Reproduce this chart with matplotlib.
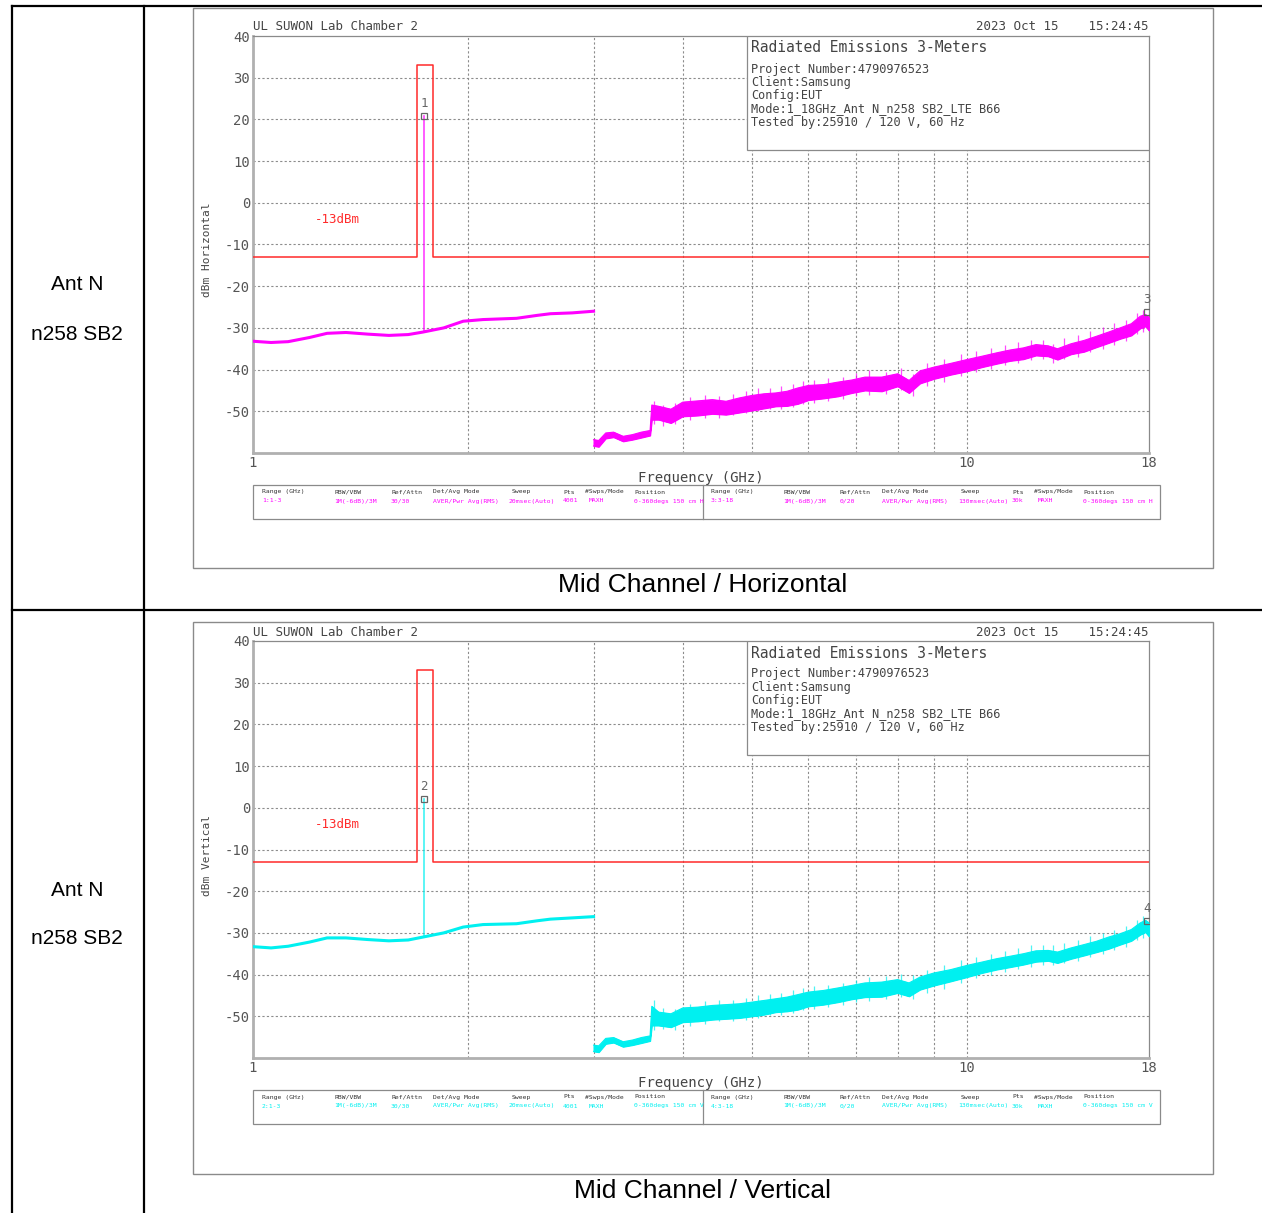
import matplotlib
matplotlib.use("Agg")
import matplotlib.pyplot as plt
from matplotlib.patches import Rectangle
from matplotlib.lines import Line2D

W, H = 1262, 1213
MONO = "DejaVu Sans Mono"
SANS = "Liberation Sans"
GREY = "#555555"

# ---- data ----
row_labels = ["Ant N", "n258 SB2"]
captions = ["Mid Channel / Horizontal", "Mid Channel / Vertical"]
pol_labels = ["dBm Horizontal", "dBm Vertical"]
trace_colors = ["#ff00ff", "#00f0f0"]

# limit mask (-13 dBm with in-band notch)
mask_freq = [1.0, 1.70, 1.70, 1.79, 1.79, 18.0]
mask_level = [-13, -13, 33, 33, -13, -13]

# 1-3 GHz sweep
seg1_freq = [1.0, 1.06, 1.12, 1.2, 1.27, 1.35, 1.45, 1.55, 1.65, 1.73,
             1.85, 1.97, 2.1, 2.34, 2.5, 2.61, 2.8, 3.0]
seg1_h = [-33.2, -33.5, -33.3, -32.3, -31.3, -31.1, -31.5, -31.8, -31.6, -31.0,
          -30.0, -28.4, -28.0, -27.7, -27.0, -26.6, -26.4, -26.0]
seg1_v = [-33.3, -33.6, -33.2, -32.2, -31.2, -31.2, -31.6, -31.9, -31.7, -31.0,
          -30.0, -28.6, -28.0, -27.8, -27.1, -26.7, -26.4, -26.1]

# 3-18 GHz sweep (noise band: lower / upper edge)
seg2_freq = [3.0, 3.05, 3.12, 3.2, 3.3, 3.4, 3.5, 3.6, 3.62, 3.7, 3.85, 4.0,
             4.2, 4.4, 4.6, 4.8, 5.0, 5.2, 5.4, 5.6, 5.8, 6.0, 6.3, 6.6,
             6.9, 7.2, 7.6, 8.0, 8.3, 8.6, 9.0, 9.5, 10.0, 10.5, 11.0, 11.5,
             12.0, 12.5, 13.0, 13.4, 14.0, 14.6, 15.2, 15.8, 16.4, 17.0, 17.5,
             17.8, 18.0]
seg2_h_lo = [-58.3, -58.5, -56.5, -56.2, -57.2, -56.8, -56.3, -55.8, -52.0, -52.0,
             -52.8, -51.2, -51.0, -50.6, -50.8, -50.3, -49.8, -49.3, -48.8, -48.7,
             -48.2, -47.3, -46.9, -46.4, -45.6, -45.0, -45.2, -44.0, -45.6, -43.3,
             -42.2, -41.2, -40.4, -39.4, -38.6, -37.9, -37.5, -36.6, -36.8, -37.6,
             -36.3, -35.7, -34.6, -33.6, -32.6, -31.8, -30.1, -29.6, -30.6]
seg2_h_hi = [-56.8, -57.0, -55.2, -55.0, -56.0, -55.6, -55.0, -54.6, -48.5, -48.8,
             -49.5, -47.8, -47.5, -47.2, -47.6, -46.8, -46.2, -45.8, -45.6, -45.2,
             -44.4, -43.8, -43.6, -43.0, -42.5, -41.8, -41.8, -41.0, -42.6, -40.3,
             -39.4, -38.5, -37.6, -36.8, -36.0, -35.3, -34.8, -34.0, -34.3, -35.0,
             -33.8, -33.0, -32.0, -31.0, -30.0, -29.0, -27.2, -26.8, -27.5]
seg2_v_lo = [-58.4, -58.6, -56.6, -56.3, -57.3, -56.9, -56.4, -55.9, -52.2, -52.2,
             -52.6, -51.4, -51.2, -50.8, -50.6, -50.4, -50.0, -49.6, -49.0, -48.8,
             -48.4, -47.6, -47.2, -46.6, -45.9, -45.4, -45.3, -44.4, -45.2, -43.6,
             -42.6, -41.6, -40.6, -39.6, -38.8, -38.2, -37.6, -36.9, -36.7, -37.2,
             -36.2, -35.4, -34.6, -33.8, -32.8, -31.9, -30.4, -29.8, -30.8]
seg2_v_hi = [-56.9, -57.1, -55.3, -55.1, -56.1, -55.7, -55.1, -54.7, -47.6, -49.0,
             -49.4, -48.0, -47.8, -47.4, -47.2, -47.0, -46.6, -46.2, -45.8, -45.4,
             -44.8, -44.2, -43.8, -43.2, -42.6, -42.0, -41.8, -41.2, -42.0, -40.6,
             -39.6, -38.8, -37.8, -37.0, -36.2, -35.6, -35.0, -34.3, -34.2, -34.6,
             -33.6, -32.8, -32.0, -31.0, -30.2, -29.2, -27.6, -27.0, -27.6]

# noise spikes sticking out of the 3-18 GHz band
hair_freq = [3.65, 3.75, 3.9, 4.1, 4.3, 4.5, 4.7, 4.9, 5.1, 5.3, 5.5, 5.7, 5.9,
             6.1, 6.4, 6.7, 7.0, 7.3, 7.7, 8.1, 8.4, 8.8, 9.3, 9.8, 10.3, 10.8,
             11.3, 11.8, 12.3, 12.8, 13.2, 13.7, 14.3, 14.9, 15.5, 16.1, 16.7,
             17.3, 17.65]
hair_h_lo = [-53.0, -53.5, -53.0, -52.0, -51.5, -51.5, -51.0, -50.5, -50.0, -49.5,
             -49.5, -49.0, -48.3, -48.0, -47.5, -47.0, -46.3, -46.0, -45.8, -45.0,
             -46.3, -44.0, -43.0, -41.5, -40.5, -39.8, -39.0, -38.5, -37.8, -37.5,
             -38.4, -37.5, -37.0, -35.8, -35.0, -34.0, -33.2, -31.5, -31.0]
hair_h_hi = [-47.5, -48.5, -48.0, -46.5, -46.0, -46.3, -45.8, -45.2, -44.5, -44.3,
             -44.0, -43.5, -42.8, -42.5, -42.0, -41.8, -40.8, -40.2, -40.5, -39.5,
             -41.0, -38.5, -37.5, -36.3, -35.5, -34.8, -34.0, -33.3, -32.8, -33.0,
             -33.8, -32.5, -31.8, -30.8, -29.8, -28.8, -28.0, -26.5, -25.8]
hair_v_lo = [-53.2, -53.0, -53.2, -52.3, -51.8, -51.2, -51.2, -50.8, -50.4, -49.8,
             -49.6, -49.2, -48.6, -48.3, -47.8, -47.3, -46.6, -46.4, -45.9, -45.4,
             -45.9, -44.4, -43.4, -41.9, -40.8, -40.0, -39.3, -38.7, -38.1, -37.6,
             -37.8, -37.3, -36.8, -35.8, -35.0, -34.2, -33.3, -31.7, -31.2]
hair_v_hi = [-46.2, -48.0, -48.2, -47.0, -46.4, -46.0, -46.2, -45.6, -45.0, -44.6,
             -44.3, -43.8, -43.2, -42.8, -42.4, -42.0, -41.2, -40.6, -40.4, -39.8,
             -40.2, -38.9, -37.8, -36.6, -35.8, -35.0, -34.3, -33.6, -33.0, -32.8,
             -33.0, -32.4, -31.6, -30.8, -30.0, -29.2, -28.4, -26.8, -26.0]

# carrier spike and markers
spike_freq = 1.735
spike_peak = [20.8, 2.1]
marker_ids = [["1", "3"], ["2", "4"]]
marker_freq = [1.735, 17.9]
marker_level = [[20.8, -26.3], [2.1, -27.2]]

# header / info box
header_left = "UL SUWON Lab Chamber 2"
header_right = "2023 Oct 15    15:24:45"
info_title = "Radiated Emissions 3-Meters"
info_lines = ["Project Number:4790976523", "Client:Samsung", "Config:EUT",
              "Mode:1_18GHz_Ant N_n258 SB2_LTE B66",
              "Tested by:25910 / 120 V, 60 Hz"]

# sweep settings table
set_headers = ["Range (GHz)", "RBW/VBW", "Ref/Attn", "Det/Avg Mode", "Sweep",
               "Pts", "#Swps/Mode", "Position"]
set_values = [
    [["1:1-3", "1M(-6dB)/3M", "30/30", "AVER/Pwr Avg(RMS)", "20msec(Auto)",
      "4001", "MAXH", "0-360degs 150 cm H"],
     ["3:3-18", "1M(-6dB)/3M", "0/20", "AVER/Pwr Avg(RMS)", "130msec(Auto)",
      "30k", "MAXH", "0-360degs 150 cm H"]],
    [["2:1-3", "1M(-6dB)/3M", "30/30", "AVER/Pwr Avg(RMS)", "20msec(Auto)",
      "4001", "MAXH", "0-360degs 150 cm V"],
     ["4:3-18", "1M(-6dB)/3M", "0/20", "AVER/Pwr Avg(RMS)", "130msec(Auto)",
      "30k", "MAXH", "0-360degs 150 cm V"]],
]

y_ticks = [40, 30, 20, 10, 0, -10, -20, -30, -40, -50]
x_grid = [2, 3, 4, 5, 6, 7, 8, 9, 10]
x_ticks = [1, 10, 18]


def fx(x):
    return x / W


def fy(y):
    return 1 - y / H


fig = plt.figure(figsize=(W / 100, H / 100), dpi=100)


def txt(x, y, s, **kw):
    kw.setdefault("va", "center")
    fig.text(fx(x), fy(y), s, **kw)


def fline(xs, ys, **kw):
    fig.add_artist(Line2D([fx(v) for v in xs], [fy(v) for v in ys], **kw))


def frect(x0, y0, x1, y1, **kw):
    fig.add_artist(Rectangle((fx(x0), fy(y1)), fx(x1) - fx(x0), fy(y0) - fy(y1), **kw))


# document table
fline([12, 1262], [6, 6], color="black", lw=1.6)
fline([12, 1262], [610, 610], color="black", lw=1.6)
fline([12, 12], [6, 1213], color="black", lw=1.6)
fline([144, 144], [6, 1213], color="black", lw=1.6)

seg1_all = [seg1_h, seg1_v]
seg2_all = [(seg2_h_lo, seg2_h_hi), (seg2_v_lo, seg2_v_hi)]
hair_all = [(hair_h_lo, hair_h_hi), (hair_v_lo, hair_v_hi)]
border_y = [(8, 568), (622, 1174)]
caption_y = [585, 1191]

for p in range(2):
    off = 605 * p
    col = trace_colors[p]

    txt(77, 285 + off, row_labels[0], ha="center", fontsize=15, family=SANS)
    txt(77, 334 + off, row_labels[1], ha="center", fontsize=15, family=SANS)
    txt(703, caption_y[p], captions[p], ha="center", fontsize=19, family=SANS)

    # screenshot border
    frect(193, border_y[p][0], 1213, border_y[p][1], fill=False,
          edgecolor="#8a8a8a", lw=1)

    ax = fig.add_axes([fx(253), fy(453 + off), (1149 - 253) / W, (453 - 36) / H])
    ax.set_xscale("log")
    ax.set_xlim(1, 18)
    ax.set_ylim(-60, 40)
    for yv in y_ticks[1:]:
        ax.axhline(yv, color="#8c8c8c", lw=0.8, ls=(0, (2, 2)), zorder=1)
    for xv in x_grid:
        ax.axvline(xv, color="#8c8c8c", lw=0.8, ls=(0, (2, 2)), zorder=1)

    ax.set_yticks(y_ticks)
    ax.set_yticklabels([str(v) for v in y_ticks], family=MONO, fontsize=10, color=GREY)
    ax.set_xticks(x_ticks)
    ax.set_xticklabels([str(v) for v in x_ticks], family=MONO, fontsize=10, color=GREY)
    ax.minorticks_off()
    ax.tick_params(length=0, pad=2)
    for side in ("top", "right"):
        ax.spines[side].set_color("#8a8a8a")
        ax.spines[side].set_linewidth(0.9)
    for side in ("left", "bottom"):
        ax.spines[side].set_color("#b0b0b0")
        ax.spines[side].set_linewidth(2)

    # info box
    ax.add_patch(Rectangle((0.551, 0.727), 0.449, 0.273, transform=ax.transAxes,
                           facecolor="white", edgecolor="#8a8a8a", lw=0.9, zorder=3))

    # limit line
    ax.plot(mask_freq, mask_level, color="#ff2a2a", lw=1.1, zorder=4)
    ax.text(1.22, -4, "-13dBm", color="#ff2a2a", family=MONO, fontsize=9,
            va="center", zorder=4)

    # traces
    ax.plot(seg1_freq, seg1_all[p], color=col, lw=2.2, zorder=5)
    ax.plot([spike_freq, spike_freq], [-31.0, spike_peak[p]], color=col, lw=1.2,
            alpha=0.75, zorder=5)
    lo, hi = seg2_all[p]
    ax.fill_between(seg2_freq, lo, hi, color=col, lw=0.8, zorder=5)
    ax.plot(seg2_freq, lo, color=col, lw=0.8, zorder=5)
    ax.plot(seg2_freq, hi, color=col, lw=0.8, zorder=5)
    hlo, hhi = hair_all[p]
    ax.vlines(hair_freq, hlo, hhi, color=col, lw=0.9, alpha=0.7, zorder=5)

    for mid, mf, ml in zip(marker_ids[p], marker_freq, marker_level[p]):
        ax.plot(mf, ml, marker="s", ms=4, mfc="none", mec="#666666", mew=0.9, zorder=6)
        ax.text(mf, ml + 1.5, mid, ha="center", va="bottom", color="#666666",
                family=MONO, fontsize=9, zorder=6)

    # header and axis labels
    txt(253, 27 + off, header_left, family=MONO, fontsize=9, color="#444444")
    txt(1149, 27 + off, header_right, ha="right", family=MONO, fontsize=9, color="#444444")
    txt(751, 48 + off, info_title, family=MONO, fontsize=10.5, color="#444444")
    for i, line in enumerate(info_lines):
        txt(751, 69 + off + 13.3 * i, line, family=MONO, fontsize=8.6, color="#444444")
    txt(207, 250 + off, pol_labels[p], rotation=90, ha="center", family=MONO,
        fontsize=8, color="#444444")
    txt(701, 478 + off, "Frequency (GHz)", ha="center", family=MONO, fontsize=10,
        color="#444444")

    # sweep settings table
    frect(253, 485 + off, 1160, 519 + off, fill=False, edgecolor="#8a8a8a", lw=0.9)
    fline([703, 703], [485 + off, 519 + off], color="#8a8a8a", lw=0.9)
    hx = [262, 334, 391, 433, 512, 563, 585, 634]
    vx = [262, 334, 391, 433, 509, 563, 589, 634]
    for half in range(2):
        dx = 449 * half
        for h, x in zip(set_headers, hx):
            txt(x + dx, 492 + off, h, family=MONO, fontsize=4.6, color="#333333")
        for v, x in zip(set_values[p][half], vx):
            txt(x + dx, 501 + off, v, family=MONO, fontsize=4.6, color=col)

fig.savefig("out.png", dpi=100)
